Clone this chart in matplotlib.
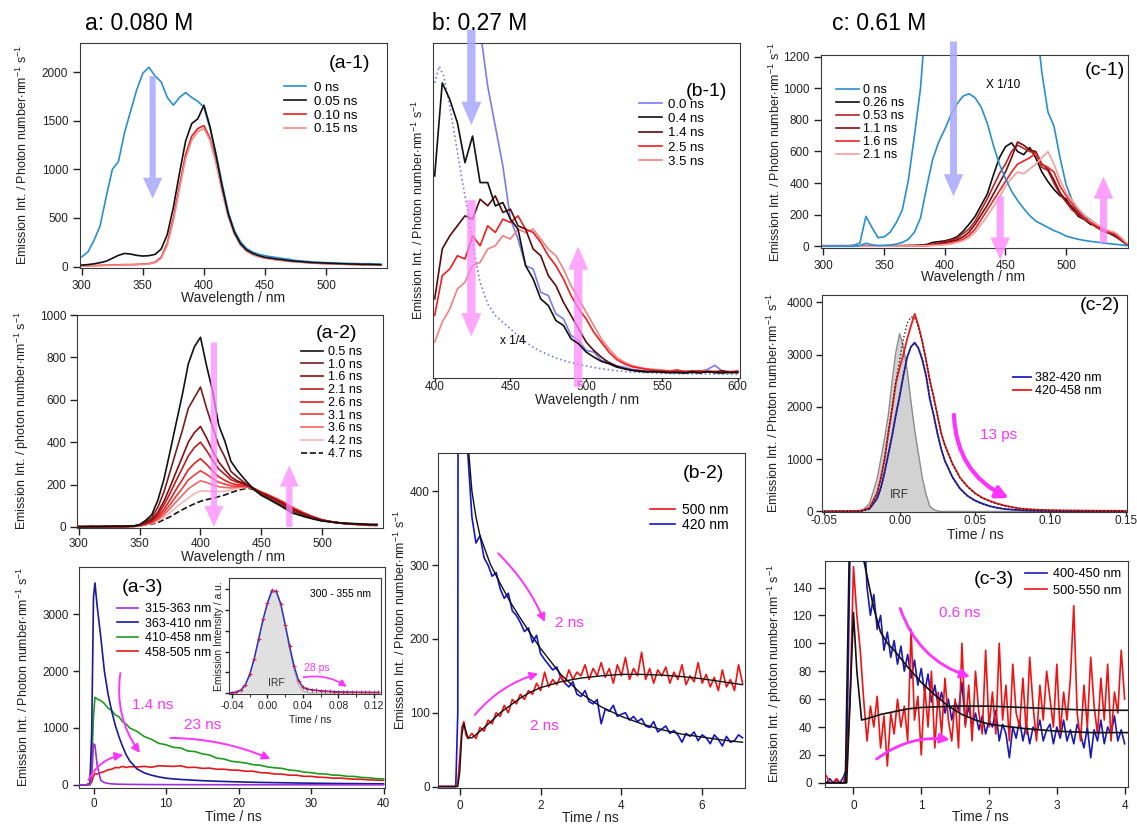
import numpy as np
import matplotlib
matplotlib.use("Agg")
import matplotlib.pyplot as plt

plt.rcParams['font.family'] = ['Liberation Sans', 'DejaVu Sans']
plt.rcParams['mathtext.default'] = 'regular'

W, H = 1137, 825
MAG = '#ff33ff'
LAV = '#a8a8ff'
PINK = '#ff88ff'

# ---------------- column a : 0.080 M ----------------
wl_a = np.arange(300, 550, 5)

# (a-1) early spectra
a1_labels = ['0 ns', '0.05 ns', '0.10 ns', '0.15 ns']
a1_colors = ['#2a8fd0', '#111111', '#e8201c', '#f48a8a']
a1_0ns = [100, 150, 270, 420, 720, 1000, 1080, 1380, 1600, 1820, 1990, 2050, 1960, 1900, 1740,
          1660, 1740, 1790, 1740, 1700, 1640, 1420, 1160, 850, 560, 370, 255, 185, 150, 125,
          112, 100, 92, 82, 75, 62, 58, 52, 46, 44, 40, 38, 36, 34, 32, 31, 28, 30, 27, 26]
a1_005 = [15, 20, 28, 40, 55, 85, 115, 135, 128, 115, 108, 112, 125, 180, 330, 610, 960, 1290,
          1470, 1520, 1660, 1440, 1140, 820, 540, 350, 235, 170, 135, 112, 95, 86, 76, 70, 60,
          55, 50, 45, 40, 38, 35, 33, 30, 28, 26, 25, 22, 22, 20, 18]
a1_010 = [8, 8, 10, 12, 14, 16, 18, 20, 20, 22, 25, 30, 45, 95, 240, 500, 830, 1150, 1340, 1420,
          1450, 1320, 1080, 780, 520, 340, 225, 160, 125, 102, 88, 78, 70, 62, 55, 50, 45, 40,
          36, 33, 30, 28, 25, 24, 22, 20, 19, 18, 17, 16]
a1_015 = [6, 6, 8, 10, 12, 14, 15, 17, 18, 20, 22, 27, 40, 85, 220, 470, 800, 1110, 1300, 1390,
          1420, 1300, 1060, 770, 510, 335, 220, 158, 122, 100, 86, 76, 68, 60, 54, 48, 44, 39,
          35, 32, 29, 27, 25, 23, 21, 20, 18, 17, 16, 15]

# (a-2) later spectra
a2_labels = ['0.5 ns', '1.0 ns', '1.6 ns', '2.1 ns', '2.6 ns', '3.1 ns', '3.6 ns', '4.2 ns', '4.7 ns']
a2_colors = ['#111111', '#7a1c1c', '#8e0b0b', '#b81e1e', '#e02222', '#f03c3c', '#f56565',
             '#f8b4b4', '#111111']
a2_05 = [2, 2, 3, 2, 3, 3, 4, 3, 4, 5, 11, 31, 58, 127, 226, 356, 490, 622, 770, 850, 895, 760,
         640, 480, 405, 310, 268, 233, 201, 172, 149, 134, 118, 102, 85, 66, 58, 49, 41, 34, 28,
         25, 21, 19, 17, 16, 15, 13, 12, 12]
a2_10 = [1, 1, 2, 1, 2, 2, 2, 3, 3, 4, 10, 24, 44, 94, 166, 261, 358, 454, 560, 610, 660, 560,
         471, 386, 330, 262, 237, 214, 194, 171, 152, 138, 123, 108, 93, 75, 65, 54, 45, 37, 29,
         26, 22, 19, 16, 15, 14, 12, 11, 11]
a2_16 = [1, 1, 1, 2, 1, 2, 2, 2, 3, 4, 9, 20, 34, 70, 122, 189, 260, 329, 400, 445, 474, 420,
         359, 306, 270, 236, 218, 206, 193, 175, 158, 146, 132, 117, 101, 84, 72, 60, 49, 40, 31,
         26, 22, 19, 16, 15, 13, 12, 10, 10]
a2_21 = [1, 1, 1, 1, 2, 2, 2, 2, 2, 4, 8, 17, 30, 59, 104, 159, 219, 276, 335, 375, 400, 360,
         314, 273, 248, 223, 211, 204, 194, 179, 163, 150, 135, 121, 105, 88, 75, 62, 51, 41, 32,
         27, 22, 19, 16, 14, 13, 11, 10, 10]
a2_26 = [1, 1, 1, 1, 1, 2, 2, 2, 2, 3, 7, 15, 26, 49, 84, 128, 177, 222, 270, 300, 322, 295,
         264, 237, 220, 206, 199, 197, 190, 176, 163, 151, 136, 123, 107, 89, 76, 63, 52, 42, 32,
         27, 22, 19, 15, 14, 12, 10, 9, 9]
a2_31 = [1, 1, 1, 1, 1, 1, 2, 2, 2, 3, 7, 14, 22, 41, 70, 105, 145, 182, 222, 245, 265, 248,
         228, 211, 202, 194, 192, 193, 189, 177, 163, 152, 138, 124, 108, 92, 79, 65, 53, 43, 33,
         28, 22, 19, 15, 13, 11, 10, 8, 8]
a2_36 = [1, 1, 1, 1, 1, 1, 1, 2, 2, 3, 6, 13, 19, 35, 58, 87, 119, 149, 180, 200, 218, 210,
         198, 190, 186, 184, 187, 190, 188, 178, 165, 153, 140, 127, 111, 94, 80, 66, 54, 43, 33,
         27, 22, 18, 15, 13, 11, 9, 8, 8]
a2_42 = [0, 1, 1, 1, 1, 1, 1, 1, 2, 2, 6, 11, 16, 28, 46, 67, 92, 115, 137, 157, 170, 170, 167,
         167, 168, 174, 180, 185, 186, 177, 164, 154, 140, 127, 111, 95, 81, 67, 54, 43, 33, 27,
         22, 18, 14, 12, 11, 9, 7, 7]
a2_47 = [0, 0, 1, 1, 1, 1, 1, 1, 1, 2, 5, 10, 14, 21, 34, 48, 65, 81, 96, 109, 121, 129, 135,
         143, 151, 162, 171, 179, 182, 174, 163, 152, 139, 127, 112, 96, 81, 67, 54, 43, 33, 27,
         22, 18, 14, 13, 11, 9, 7, 7]

# (a-3) decays in four wavelength bands
t_a3 = [-2, -1.5, -1, -0.5, -0.25, 0, 0.2, 0.5, 1, 1.5, 2, 2.5, 3, 3.5, 4, 4.5, 5, 6, 7, 8, 9] + list(range(10, 41))
a3_labels = ['315-363 nm', '363-410 nm', '410-458 nm', '458-505 nm']
a3_colors = ['#9b30d9', '#1a1a9a', '#1f9a1f', '#e01a1a']
a3_purple = [0, 0, 0, 10, 150, 720, 700, 350, 80, 40, 25, 18, 14, 12, 10, 9, 8, 7, 6, 5, 5,
             4, 4, 4, 3, 3, 3, 3, 3, 3, 2, 2, 2, 2, 2, 2, 2, 2, 2, 2, 2, 1, 1, 1, 1, 1, 1, 1, 1, 1, 1, 1]
a3_blue = [0, 0, 0, 20, 900, 3300, 3550, 3150, 2600, 2000, 1600, 1300, 1050, 850, 680, 530, 420,
           280, 210, 170, 140, 118, 105, 95, 88, 80, 74, 69, 64, 60, 56, 52, 49, 46, 43, 41, 39,
           37, 35, 33, 31, 30, 28, 27, 25, 24, 23, 22, 21, 20, 19, 18]
a3_green = [0, 0, 0, 30, 400, 1200, 1540, 1510, 1480, 1430, 1350, 1310, 1230, 1200, 1110, 1070,
            1000, 940, 850, 800, 730, 705, 660, 650, 595, 585, 545, 525, 470, 455, 415, 400, 385,
            355, 345, 315, 300, 290, 260, 250, 225, 215, 195, 192, 172, 168, 150, 148, 130, 125,
            110, 105]
a3_red = [0, 0, 0, 0, 50, 150, 200, 190, 215, 235, 265, 275, 305, 300, 325, 305, 320, 315, 325,
          310, 335, 330, 325, 335, 305, 310, 290, 295, 275, 275, 260, 258, 240, 240, 215, 210, 190,
          190, 170, 170, 150, 150, 135, 130, 118, 120, 108, 100, 98, 88, 85, 78]

# inset: 300-355 nm band with the instrument response
t_in = np.round(np.arange(-0.045, 0.126, 0.005), 3)
in_signal = [0.0, 0.002, 0.01, 0.03, 0.08, 0.18, 0.33, 0.52, 0.71, 0.87, 0.99, 0.98, 0.86, 0.66,
             0.45, 0.26, 0.12, 0.055, 0.038, 0.03, 0.025, 0.021, 0.018, 0.015, 0.013, 0.011, 0.01,
             0.009, 0.008, 0.007, 0.007, 0.006, 0.006, 0.005, 0.005]
in_irf = [0, 0, 0.005, 0.02, 0.07, 0.17, 0.32, 0.51, 0.70, 0.86, 0.97, 0.97, 0.85, 0.64, 0.42,
          0.22, 0.08, 0.02, 0.005, 0, 0, 0, 0, 0, 0, 0, 0, 0, 0, 0, 0, 0, 0, 0, 0]

# ---------------- column b : 0.27 M ----------------
wl_b = np.arange(400, 601, 5)
b1_labels = ['0.0 ns', '0.4 ns', '1.4 ns', '2.5 ns', '3.5 ns']
b1_colors = ['#7b7bf2', '#111111', '#5c0a0a', '#f01e1e', '#f48080']
b1_00 = [1400, 1380, 1350, 1300, 1250, 1180, 1040, 870, 750, 630, 470, 410, 330, 320, 250, 240,
         185, 170, 120, 105, 75, 70, 45, 40, 28, 25, 18, 15, 12, 14, 10, 12, 9, 14, 10, 12, 18,
         30, 12, 10, 12]
b1_04 = [600, 880, 830, 760, 640, 720, 580, 580, 510, 520, 470, 440, 330, 290, 230, 210, 165,
         150, 110, 95, 70, 55, 42, 35, 25, 20, 15, 12, 10, 12, 9, 8, 8, 7, 9, 7, 12, 8, 7, 9, 8]
b1_14 = [230, 380, 420, 450, 480, 470, 530, 510, 540, 490, 500, 450, 440, 380, 360, 300, 270,
         220, 180, 140, 100, 75, 55, 38, 28, 20, 16, 14, 12, 10, 11, 9, 10, 8, 12, 9, 10, 9, 14, 8, 10]
b1_25 = [180, 300, 320, 360, 350, 420, 390, 450, 430, 470, 460, 480, 440, 430, 400, 360, 330,
         290, 240, 200, 170, 130, 100, 70, 48, 35, 26, 22, 18, 15, 14, 12, 16, 11, 12, 14, 10, 12,
         11, 9, 12]
b1_35 = [100, 160, 200, 260, 280, 330, 340, 380, 390, 420, 410, 440, 430, 440, 410, 380, 360,
         320, 270, 230, 190, 150, 110, 80, 55, 40, 30, 24, 20, 18, 16, 14, 15, 12, 14, 12, 15, 11,
         13, 12, 14]
# 0.0 ns spectrum scaled by 1/4
wl_b_q = [400, 403, 406, 410, 414, 418, 422, 426, 430, 435, 440, 445, 450, 455, 460, 465, 470,
          480, 490, 500, 510, 520, 530, 540, 550, 560, 580, 600]
b1_quarter = [880, 930, 900, 810, 700, 590, 490, 370, 280, 215, 180, 160, 140, 120, 100, 85, 72,
              52, 38, 28, 20, 14, 10, 8, 6, 5, 4, 3]

# (b-2) decays at 500 and 420 nm
t_b2 = np.concatenate([[-0.5, -0.3, -0.1, -0.05, 0.0, 0.05, 0.1, 0.15, 0.2],
                       np.round(np.arange(0.3, 7.01, 0.1), 1)])
b2_420 = [0, 0, 0, 100, 3000, 3000, 2000, 1200, 450,
          365, 330, 340, 310, 300, 285, 290, 268,
          255, 262, 238, 232, 222, 210, 215, 195, 205, 180,
          172, 165, 158, 162, 148, 140, 135, 142, 125, 122,
          130, 115, 112, 118, 85, 105, 102, 110, 95, 98,
          100, 90, 95, 88, 92, 82, 80, 88, 74, 78,
          82, 72, 76, 70, 60, 72, 68, 74, 62, 70,
          66, 58, 70, 64, 55, 68, 60, 62, 70, 66]
b2_500 = [0, 0, 0, 5, 40, 80, 88, 70, 65,
          72, 65, 80, 75, 90, 85, 100, 95,
          110, 100, 118, 112, 125, 118, 130, 125, 140, 130,
          155, 135, 145, 138, 150, 140, 158, 145, 155, 150,
          165, 145, 160, 150, 168, 148, 160, 140, 165, 150,
          175, 145, 160, 150, 182, 145, 160, 140, 158, 150,
          162, 140, 155, 145, 165, 138, 150, 142, 168, 140,
          152, 135, 148, 130, 158, 135, 145, 130, 165, 140]
t_b2_fit420 = [0.18, 0.3, 0.4, 0.5, 0.75, 1, 1.25, 1.5, 1.75, 2, 2.5, 3, 3.5, 4, 4.5, 5, 5.5, 6, 6.5, 7]
b2_fit420 = [480, 400, 365, 340, 302, 275, 250, 228, 207, 187, 152, 126, 108, 95, 85, 77, 71, 67, 63, 60]
t_b2_fit500 = [-0.5, -0.05, 0.0, 0.05, 0.1, 0.2, 0.3, 0.5, 0.75, 1.0, 1.25, 1.5, 1.75, 2.0, 2.5,
               3.0, 3.5, 4.0, 4.5, 5.0, 5.5, 6.0, 6.5, 7.0]
b2_fit500 = [0, 0, 20, 70, 85, 66, 66, 75, 87, 100, 110, 120, 128, 134, 142, 147, 150, 152, 152,
             151, 149, 146, 142, 138]

# ---------------- column c : 0.61 M ----------------
wl_c = np.arange(300, 551, 5)
c1_labels = ['0 ns', '0.26 ns', '0.53 ns', '1.1 ns', '1.6 ns', '2.1 ns']
c1_colors = ['#2a8fd0', '#111111', '#b3262a', '#7d0d0d', '#ee2424', '#f5a0a0']
c1_0ns = [5, 5, 5, 6, 5, 8, 20, 190, 120, 55, 60, 90, 150, 230, 420, 700, 1000, 1500, 2500, 3500,
          5000, 7000, 8500, 9300, 9600, 9300, 8600, 7600, 6300, 5100, 4200, 3400, 2800, 2300,
          1800, 1450, 1100, 850, 760, 560, 390, 290, 230, 185, 170, 140, 100, 90, 75, 50, 10]
c1_0ns_tenth = [1, 1, 1, 1, 1, 1, 5, 20, 10, 6, 7, 9, 15, 25, 45, 90, 180, 370, 550, 660, 740,
                830, 900, 950, 965, 940, 880, 780, 640, 520, 430, 350, 290, 240, 195, 160, 140,
                120, 100, 85, 65, 55, 45, 38, 32, 28, 22, 18, 14, 10, 5]
c1_026 = [3, 3, 4, 3, 3, 4, 3, 5, 3, 4, 3, 4, 5, 5, 6, 6, 8, 12, 25, 30, 35, 45, 60, 95, 140,
          190, 260, 330, 450, 560, 630, 655, 600, 580, 625, 560, 470, 410, 360, 320, 300, 240,
          190, 170, 140, 130, 95, 85, 65, 40, 10]
c1_053 = [2, 2, 3, 2, 2, 3, 2, 3, 2, 3, 2, 3, 3, 4, 4, 5, 6, 8, 15, 20, 30, 40, 50, 80, 110,
          160, 230, 300, 380, 460, 520, 600, 640, 620, 600, 590, 500, 480, 400, 330, 280, 230,
          200, 170, 150, 120, 100, 90, 70, 40, 15]
c1_11 = [2, 2, 2, 2, 2, 2, 2, 2, 2, 2, 2, 2, 3, 3, 4, 4, 5, 6, 10, 15, 25, 32, 40, 60, 90, 140,
         200, 260, 330, 400, 470, 560, 660, 640, 610, 600, 520, 490, 420, 340, 290, 250, 210,
         180, 150, 130, 110, 95, 75, 50, 15]
c1_16 = [2, 2, 2, 2, 2, 2, 2, 2, 2, 2, 2, 2, 2, 3, 3, 3, 4, 5, 8, 12, 15, 22, 30, 45, 70, 110,
         170, 230, 290, 350, 410, 470, 520, 540, 560, 590, 520, 500, 470, 380, 320, 270, 220,
         180, 150, 130, 110, 90, 80, 50, 15]
c1_21 = [1, 1, 1, 1, 1, 1, 1, 1, 1, 1, 1, 2, 2, 2, 3, 3, 3, 4, 6, 8, 10, 15, 25, 35, 55, 90,
         140, 190, 250, 310, 380, 430, 470, 460, 490, 520, 560, 600, 520, 420, 340, 290, 240,
         200, 170, 140, 120, 100, 90, 60, 20]

# (c-2) first 150 ps
t_c2 = [-0.05, -0.03, -0.025, -0.02, -0.015, -0.0125, -0.01, -0.0075, -0.005, -0.0025, 0, 0.0025,
        0.005, 0.0075, 0.01, 0.0125, 0.015, 0.0175, 0.02, 0.0225, 0.025, 0.0275, 0.03, 0.035,
        0.04, 0.045, 0.05, 0.055, 0.06, 0.065, 0.07, 0.08, 0.09, 0.1, 0.11, 0.12, 0.13, 0.14, 0.15]
c2_irf = [0, 0, 10, 150, 620, 1000, 1400, 1850, 2500, 3050, 3400, 3150, 2700, 2100, 1550, 1100,
          650, 330, 100, 40, 10, 0, 0, 0, 0, 0, 0, 0, 0, 0, 0, 0, 0, 0, 0, 0, 0, 0, 0]
c2_blue = [0, 5, 15, 50, 250, 450, 750, 1100, 1450, 1850, 2200, 2600, 2950, 3150, 3230, 3120,
           2900, 2600, 2150, 1850, 1500, 1200, 970, 660, 440, 300, 210, 150, 100, 70, 45, 25, 15,
           10, 8, 6, 5, 5, 4]
c2_red = [0, 5, 20, 70, 350, 640, 1000, 1500, 1950, 2450, 2750, 3000, 3300, 3550, 3780, 3550,
          3250, 2900, 2500, 2200, 1850, 1500, 1270, 920, 650, 480, 350, 260, 200, 150, 110, 55,
          35, 25, 20, 18, 15, 14, 12]
c2_fit_blue = [0, 3, 12, 45, 230, 430, 730, 1080, 1450, 1850, 2230, 2620, 2950, 3150, 3220, 3130,
               2920, 2620, 2200, 1850, 1500, 1210, 970, 650, 430, 290, 200, 140, 95, 65, 45, 22,
               12, 8, 5, 4, 3, 3, 2]
c2_fit_red = [0, 3, 15, 65, 330, 620, 1000, 1520, 2000, 2500, 2900, 3300, 3600, 3720, 3700, 3520,
              3250, 2900, 2530, 2180, 1850, 1520, 1260, 900, 640, 470, 340, 250, 190, 140, 105,
              55, 32, 22, 16, 13, 11, 10, 9]

# (c-3) band decays to 4 ns
t_c3 = np.round(np.arange(-0.4, 4.001, 0.05), 2)
c3_blue = [0, 3, 0, 2, 0, 4, 10, 170, 500, 450,
           260, 190, 140, 120, 135, 110, 120, 95, 108, 90, 102, 85, 98, 80, 92, 75, 88, 70,
           82, 65, 78, 58, 70, 55, 65, 50, 60, 45, 58, 52, 72, 42, 55, 40, 50, 38, 48, 35,
           45, 40, 52, 30, 42, 35, 18, 40, 32, 45, 30, 42, 28, 40, 35, 45, 30, 38, 42, 28,
           40, 32, 45, 30, 38, 28, 42, 35, 25, 40, 18, 38, 30, 45, 28, 40, 35, 48, 30, 38,
           28]
c3_red = [5, 0, 0, 3, 0, 0, 8, 60, 155, 120,
          95, 60, 30, 55, 40, 62, 25, 48, 12, 50, 35, 60, 40, 55, 30, 110, 45, 62,
          20, 70, 40, 80, 25, 65, 35, 75, 45, 30, 60, 25, 100, 40, 70, 30, 80, 50, 35, 95,
          40, 65, 35, 100, 45, 70, 30, 85, 50, 40, 75, 35, 90, 55, 30, 70, 45, 80, 60, 40,
          85, 35, 65, 45, 75, 127, 50, 30, 70, 40, 90, 55, 35, 75, 45, 85, 30, 65, 50, 95,
          60]
t_c3_fitb = [-0.4, -0.12, -0.05, 0.0, 0.15, 0.3, 0.4, 0.5, 0.6, 0.8, 1.0, 1.2, 1.4, 1.6, 1.8,
             2.0, 2.5, 3.0, 3.5, 4.05]
c3_fitb = [0, 0, 200, 500, 160, 125, 108, 100, 95, 83, 72, 63, 55, 49, 45, 42, 39, 37, 36, 36]
t_c3_fitr = [-0.4, -0.1, -0.05, 0.0, 0.05, 0.12, 0.2, 0.4, 0.6, 0.8, 1.0, 1.5, 2.0, 2.5, 3.0,
             3.5, 4.05]
c3_fitr = [0, 0, 60, 122, 80, 45, 46, 49, 51, 53, 54, 55, 55, 54, 53, 52, 52]


fig = plt.figure(figsize=(W / 100, H / 100), dpi=100)


def panel(x0, y0, x1, y1, size=8.5, length=5, pad=3.5):
    ax = fig.add_axes([x0 / W, 1 - y1 / H, (x1 - x0) / W, (y1 - y0) / H])
    for s in ax.spines.values():
        s.set_color('#3a3a3a')
    ax.tick_params(direction='out', length=length, width=1, labelsize=size, colors='#222222',
                   pad=pad)
    return ax


def ylab(x, y, s, size=9):
    fig.text(x / W, 1 - y / H, s, rotation=90, ha='center', va='center', fontsize=size,
             color='#222222')


def xlab(x, y, s, size=10):
    fig.text(x / W, 1 - y / H, s, ha='center', va='center', fontsize=size, color='#222222')


def fat_arrow(ax, x, y0, y1, color, alpha=0.8, scale=20, tail=0.22, head=0.7, hl=0.75):
    style = f'simple,head_width={head},head_length={hl},tail_width={tail}'
    ax.annotate('', xy=(x, y1), xytext=(x, y0), annotation_clip=False, zorder=5,
                arrowprops=dict(arrowstyle=style, color=color, alpha=alpha, lw=0,
                                mutation_scale=scale, shrinkA=0, shrinkB=0))


def thin_arrow(ax, p0, p1, rad, lw=1.4, scale=12):
    ax.annotate('', xy=p1, xytext=p0, zorder=6,
                arrowprops=dict(arrowstyle='-|>', color=MAG, lw=lw, mutation_scale=scale,
                                shrinkA=0, shrinkB=0, connectionstyle=f'arc3,rad={rad}'))


def legend(ax, anchor, size=9, spacing=0.15, hl=1.7, pad=0.5):
    ax.legend(loc='upper left', bbox_to_anchor=anchor, frameon=False, fontsize=size,
              borderpad=0, borderaxespad=0, labelspacing=spacing, handlelength=hl,
              handletextpad=pad)


def tag(ax, x, y, s):
    ax.text(x, y, s, transform=ax.transAxes, fontsize=14, ha='center', va='center')


ylabel_P = r'Emission Int. / Photon number$\cdot$nm$^{-1}$ s$^{-1}$'
ylabel_p = r'Emission Int. / photon number$\cdot$nm$^{-1}$ s$^{-1}$'

fig.text(85 / W, 1 - 23 / H, 'a: 0.080 M', fontsize=16.5, va='center')
fig.text(432 / W, 1 - 23 / H, 'b: 0.27 M', fontsize=16.5, va='center')
fig.text(832 / W, 1 - 23 / H, 'c: 0.61 M', fontsize=16.5, va='center')

# ---- (a-1)
ax = panel(80, 43, 387, 268)
for y, lab, c, z in zip([a1_0ns, a1_005, a1_010, a1_015], a1_labels, a1_colors, [2, 4, 3, 3]):
    ax.plot(wl_a, y, color=c, lw=1.2, label=lab, zorder=z)
ax.set_xlim(298.5, 550)
ax.set_ylim(-15, 2300)
ax.set_xticks([300, 350, 400, 450, 500])
ax.set_yticks([0, 500, 1000, 1500, 2000])
fat_arrow(ax, 358, 1960, 700, LAV, alpha=0.85)
tag(ax, 0.879, 0.91, '(a-1)')
legend(ax, (0.664, 0.828), size=9.5, spacing=0.12, hl=1.67, pad=0.6)
ylab(22, 155, ylabel_P)
xlab(233, 298, 'Wavelength / nm')

# ---- (a-2)
ax = panel(77, 315, 383, 528, pad=2.5)
a2_sets = [a2_05, a2_10, a2_16, a2_21, a2_26, a2_31, a2_36, a2_42, a2_47]
for i, (y, lab, c) in enumerate(zip(a2_sets, a2_labels, a2_colors)):
    ax.plot(wl_a, y, color=c, lw=1.2, label=lab, ls='--' if i == 8 else '-',
            zorder=3 + (8 - i) * 0.1)
ax.set_xlim(298.5, 550)
ax.set_ylim(-5, 1000)
ax.set_xticks([300, 350, 400, 450, 500])
ax.set_yticks([0, 200, 400, 600, 800, 1000])
fat_arrow(ax, 411, 870, 0, PINK, alpha=0.75, scale=16, tail=0.28, head=0.85, hl=0.95)
fat_arrow(ax, 473, 0, 290, PINK, alpha=0.75, scale=16, tail=0.28, head=0.85, hl=0.95)
tag(ax, 0.849, 0.914, '(a-2)')
legend(ax, (0.733, 0.855), size=9, spacing=0.06, hl=1.75, pad=0.4)
ylab(22, 421, ylabel_p)
xlab(233, 557, 'Wavelength / nm')

# ---- (a-3)
ax = panel(79, 567, 385, 788, length=4)
for y, lab, c, z in zip([a3_purple, a3_blue, a3_green, a3_red], a3_labels, a3_colors, [5, 4, 3, 2]):
    ax.plot(t_a3, y, color=c, lw=1.2, label=lab, zorder=z)
ax.set_xlim(-2, 40.2)
ax.set_ylim(-55, 3830)
ax.set_xticks([0, 10, 20, 30, 40])
ax.set_yticks([0, 1000, 2000, 3000])
tag(ax, 0.209, 0.905, '(a-3)')
legend(ax, (0.123, 0.835), size=9, spacing=0.19, hl=1.73, pad=0.53)
thin_arrow(ax, (3.7, 1965), (6.4, 561), 0.2)
thin_arrow(ax, (10.6, 825), (24.4, 456), -0.1)
thin_arrow(ax, (-0.7, 88), (4.1, 526), -0.25)
ax.text(8.2, 1404, '1.4 ns', color=MAG, fontsize=11, ha='center', va='center')
ax.text(15.1, 1053, '23 ns', color=MAG, fontsize=11, ha='center', va='center')
ylab(23, 677, ylabel_P)
xlab(233, 817, 'Time / ns')

# inset
ins = panel(229, 578, 381, 694, size=7.5, length=3, pad=2)
ins.fill_between(t_in, in_irf, color='#e0e0e0', lw=0)
ins.plot(t_in, in_irf, color='#a8a8a8', lw=0.8)
ins.plot(t_in, in_signal, color='#3030c8', lw=1.1)
ins.plot(t_in, in_signal, ls='none', marker='+', ms=3, mew=0.8, color='#d02050')
ins.set_xlim(-0.0434, 0.128)
ins.set_ylim(-0.01, 1.11)
ins.set_xticks([-0.04, 0.0, 0.04, 0.08, 0.12])
ins.set_xticklabels(['-0.04', '0.00', '0.04', '0.08', '0.12'])
ins.set_xticks([-0.02, 0.02, 0.06, 0.1], minor=True)
ins.set_yticks([0, 0.2, 0.4, 0.6, 0.8, 1.0])
ins.set_yticklabels([])
ins.tick_params(which='minor', direction='out', length=2)
ins.text(0.0818, 0.955, '300 - 355 nm', fontsize=7.5, ha='center', va='center')
ins.text(0.0104, 0.093, 'IRF', fontsize=7.5, ha='center', va='center', color='#333333')
ins.text(0.0555, 0.24, '28 ps', fontsize=7.5, ha='center', va='center', color=MAG)
thin_arrow(ins, (0.0404, 0.151), (0.0893, 0.06), -0.2, lw=1.2, scale=10)
ylab(219, 636, 'Emission Intensity / a.u.', size=7.5)
xlab(310, 720, 'Time / ns', size=7.5)

# ---- (b-1)
ax = panel(433, 43, 740, 378, length=2, pad=0)
for y, lab, c, z in zip([b1_00, b1_04, b1_14, b1_25, b1_35], b1_labels, b1_colors, [2, 6, 5, 4, 3]):
    ax.plot(wl_b, y, color=c, lw=1.2, label=lab, zorder=z)
ax.plot(wl_b_q, b1_quarter, color='#7b7bf2', lw=1.2, ls=':', zorder=2)
ax.set_xlim(398.9, 601.5)
ax.set_ylim(-8, 1000)
ax.set_xticks([400, 450, 500, 550, 600])
ax.set_yticks([])
fat_arrow(ax, 424.2, 1040, 753, LAV, alpha=0.85, scale=24, tail=0.25, head=0.6, hl=0.7)
fat_arrow(ax, 424.2, 527, 117, PINK, alpha=0.75, scale=24, tail=0.25, head=0.6, hl=0.7)
fat_arrow(ax, 494.7, -35, 388, PINK, alpha=0.75, scale=24, tail=0.25, head=0.6, hl=0.7)
ax.text(451.8, 102, 'x 1/4', fontsize=8.5, ha='center', va='center')
tag(ax, 0.891, 0.855, '(b-1)')
legend(ax, (0.672, 0.835), size=9.5, spacing=0.16, hl=1.75, pad=0.45)
ylab(418, 210, ylabel_P)
xlab(587, 400, 'Wavelength / nm')

# ---- (b-2)
ax = panel(438, 453, 745, 788)
ax.plot(t_b2, b2_500, color='#ee1414', lw=1.2, label='500 nm', zorder=3)
ax.plot(t_b2, b2_420, color='#1414d2', lw=1.2, label='420 nm', zorder=2)
ax.plot(t_b2_fit420, b2_fit420, color='#111111', lw=1.0, zorder=4)
ax.plot(t_b2_fit500, b2_fit500, color='#111111', lw=1.0, zorder=4)
ax.set_xlim(-0.54, 7.06)
ax.set_ylim(-2, 452)
ax.set_xticks([0, 2, 4, 6])
ax.set_yticks([0, 100, 200, 300, 400])
ax.tick_params(axis='y', length=4, pad=2)
thin_arrow(ax, (0.95, 316), (2.1, 223), -0.1)
thin_arrow(ax, (0.37, 97), (1.94, 153), -0.15)
ax.text(2.72, 222, '2 ns', color=MAG, fontsize=11, ha='center', va='center')
ax.text(2.1, 82, '2 ns', color=MAG, fontsize=11, ha='center', va='center')
tag(ax, 0.864, 0.939, '(b-2)')
legend(ax, (0.69, 0.851), size=10, spacing=0.1, hl=1.8, pad=0.5)
ylab(400, 620, ylabel_P)
xlab(590, 818, 'Time / ns')

# ---- (c-1)
ax = panel(821, 55, 1128, 248)
c1_sets = [c1_0ns, c1_026, c1_053, c1_11, c1_16, c1_21]
for y, lab, c in zip(c1_sets, c1_labels, c1_colors):
    ax.plot(wl_c, y, color=c, lw=1.2, label=lab)
ax.plot(wl_c, c1_0ns_tenth, color=c1_colors[0], lw=1.2)
ax.set_xlim(298, 551)
ax.set_ylim(-10, 1210)
ax.set_xticks([300, 350, 400, 450, 500])
ax.set_yticks([0, 200, 400, 600, 800, 1000, 1200])
fat_arrow(ax, 407.2, 1295, 316, LAV, alpha=0.85, scale=20, tail=0.25, head=0.7, hl=0.8)
fat_arrow(ax, 445.7, 316, -84, PINK, alpha=0.8, scale=20, tail=0.25, head=0.7, hl=0.8)
fat_arrow(ax, 530.8, 21, 442, PINK, alpha=0.8, scale=20, tail=0.25, head=0.7, hl=0.8)
ax.text(448.4, 1021, 'X 1/10', fontsize=8.5, ha='center', va='center')
tag(ax, 0.925, 0.922, '(c-1)')
legend(ax, (0.05, 0.85), size=9, spacing=0.08, hl=1.8, pad=0.3)
ylab(775, 152, ylabel_P)
xlab(973, 277, 'Wavelength / nm')

# ---- (c-2)
ax = panel(822, 295, 1127, 512, length=2, pad=0.5)
ax.fill_between(t_c2, c2_irf, color='#d2d2d2', lw=0)
ax.plot(t_c2, c2_irf, color='#8c8c8c', lw=1.0)
ax.plot(t_c2, c2_blue, color='#2020c0', lw=1.3, label='382-420 nm')
ax.plot(t_c2, c2_red, color='#ee1c1c', lw=1.3, label='420-458 nm')
ax.plot(t_c2, c2_fit_blue, color='#222222', lw=1.0, ls=':')
ax.plot(t_c2, c2_fit_red, color='#222222', lw=1.0, ls=':')
ax.set_xlim(-0.0515, 0.1508)
ax.set_ylim(-10, 4140)
ax.set_xticks([-0.05, 0.0, 0.05, 0.1, 0.15])
ax.set_xticklabels(['-0.05', '0.00', '0.05', '0.10', '0.15'])
ax.set_yticks([0, 1000, 2000, 3000, 4000])
ax.tick_params(axis='y', length=4, pad=2.5)
ax.text(-0.0004, 318, 'IRF', fontsize=8.5, ha='center', va='center', color='#333333')
ax.text(0.0658, 1465, '13 ps', color=MAG, fontsize=11, ha='center', va='center')
thin_arrow(ax, (0.036, 1847), (0.0724, 255), 0.3, lw=3, scale=18)
tag(ax, 0.911, 0.953, '(c-2)')
legend(ax, (0.626, 0.645), size=9, spacing=0.08, hl=1.45, pad=0.3)
ylab(773, 403, ylabel_P)
xlab(975, 535, 'Time / ns')

# ---- (c-3)
ax = panel(825, 561, 1128, 787, pad=4.5)
ax.plot(t_c3, c3_blue, color='#1a1ab4', lw=1.2, label='400-450 nm', zorder=2)
ax.plot(t_c3, c3_red, color='#ee1414', lw=1.2, label='500-550 nm', zorder=3)
ax.plot(t_c3_fitb, c3_fitb, color='#111111', lw=1.2, zorder=4)
ax.plot(t_c3_fitr, c3_fitr, color='#111111', lw=1.2, zorder=4)
ax.set_xlim(-0.42, 4.05)
ax.set_ylim(-3, 159)
ax.set_xticks([0, 1, 2, 3, 4])
ax.set_yticks([0, 20, 40, 60, 80, 100, 120, 140])
thin_arrow(ax, (0.69, 125), (1.72, 76), 0.25, lw=2, scale=14)
thin_arrow(ax, (0.34, 17), (1.42, 31), -0.2, lw=2, scale=14)
ax.text(1.57, 122, '0.6 ns', color=MAG, fontsize=11, ha='center', va='center')
tag(ax, 0.556, 0.916, '(c-3)')
legend(ax, (0.66, 0.967), size=9.2, spacing=0.33, hl=1.7, pad=0.5)
ylab(775, 674, ylabel_p)
xlab(980, 817, 'Time / ns')

fig.savefig('out.png', dpi=100)
